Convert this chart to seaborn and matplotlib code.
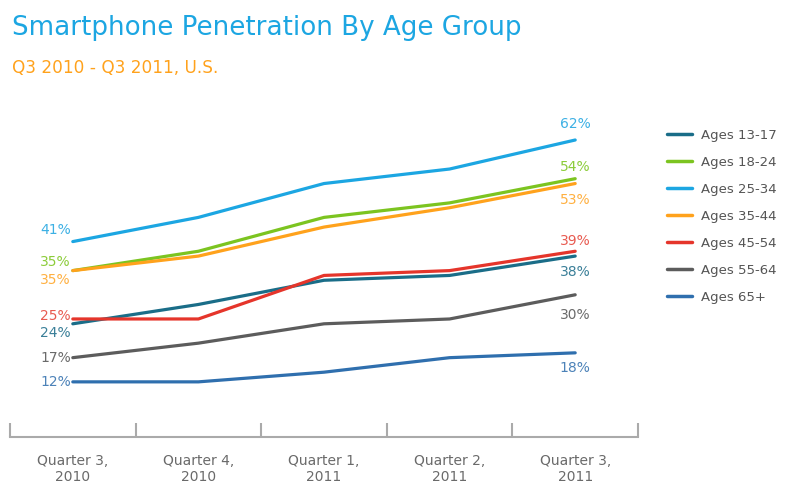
import matplotlib
matplotlib.use("Agg")
import matplotlib.pyplot as plt
from matplotlib.ticker import FixedLocator
import seaborn as sns
import pandas as pd

quarters = ["Quarter 3,\n2010", "Quarter 4,\n2010", "Quarter 1,\n2011",
            "Quarter 2,\n2011", "Quarter 3,\n2011"]
groups = ["Ages 13-17", "Ages 18-24", "Ages 25-34", "Ages 35-44",
          "Ages 45-54", "Ages 55-64", "Ages 65+"]
ages_13_17 = [24, 28, 33, 34, 38]
ages_18_24 = [35, 39, 46, 49, 54]
ages_25_34 = [41, 46, 53, 56, 62]
ages_35_44 = [35, 38, 44, 48, 53]
ages_45_54 = [25, 25, 34, 35, 39]
ages_55_64 = [17, 20, 24, 25, 30]
ages_65_plus = [12, 12, 14, 17, 18]
series = [ages_13_17, ages_18_24, ages_25_34, ages_35_44,
          ages_45_54, ages_55_64, ages_65_plus]

colors = ["#1a6d88", "#7cc420", "#1ca6e2", "#ffa21c", "#e5352b", "#5c5c5c", "#2f6fae"]
label_colors = ["#3a7f98", "#8ccc3a", "#3cb0e4", "#ffb040", "#e85a50", "#6a6a6a", "#4c82b8"]

# offsets (pixels) for the start / end value labels
start_off = [(-2, -9), (-2, 9), (-2, 12), (-2, -9), (-2, 3), (-2, 0), (-2, 0)]
end_off = [(0, -16), (0, 12), (0, 16), (0, -16), (0, 10), (0, -20), (0, -15)]

rows = []
for g, vals in zip(groups, series):
    for q, v in zip(quarters, vals):
        rows.append({"quarter": q, "value": v, "group": g})
df = pd.DataFrame(rows)

sns.set_style("white")
plt.rcParams["font.family"] = ["DejaVu Sans"]

fig = plt.figure(figsize=(7.9, 4.86), dpi=100)
ax = fig.add_axes([10 / 790, 49 / 486, 628 / 790, 335.7 / 486])

sns.lineplot(data=df, x="quarter", y="value", hue="group", palette=colors,
             hue_order=groups, sort=False, linewidth=2.3, ax=ax)

for i, vals in enumerate(series):
    ax.annotate(f"{vals[0]}%", (0, vals[0]), xytext=start_off[i],
                textcoords="offset pixels", ha="right", va="center",
                color=label_colors[i], fontsize=10)
    ax.annotate(f"{vals[-1]}%", (4, vals[-1]), xytext=end_off[i],
                textcoords="offset pixels", ha="center", va="center",
                color=label_colors[i], fontsize=10)

ax.set_xlim(-0.5, 4.5)
ax.set_ylim(0.6, 70)
ax.set_xlabel("")
ax.set_ylabel("")
ax.set_yticks([])
ax.xaxis.set_minor_locator(FixedLocator([-0.5, 0.5, 1.5, 2.5, 3.5, 4.5]))
ax.tick_params(axis="x", which="major", bottom=True, length=0, pad=12,
               labelsize=10, labelcolor="#6a6a6a")
ax.tick_params(axis="x", which="minor", bottom=True, direction="in", length=10,
               width=1.5, color="#aaaaaa")
for side in ["top", "right", "left"]:
    ax.spines[side].set_visible(False)
ax.spines["bottom"].set_color("#aaaaaa")
ax.spines["bottom"].set_linewidth(1.5)

leg = ax.legend(loc="upper left", bbox_to_anchor=(655 / 790, 1 - 117 / 486),
                bbox_transform=fig.transFigure, frameon=False, fontsize=9.5,
                handlelength=1.9, handletextpad=0.7, labelspacing=1.06)
for t in leg.get_texts():
    t.set_color("#555555")
for h in leg.legend_handles:
    h.set_linewidth(2.5)

fig.text(12 / 790, 1 - 28 / 486, "Smartphone Penetration By Age Group",
         color="#1ca6e2", fontsize=18.8, va="center", ha="left")
fig.text(12 / 790, 1 - 68 / 486, "Q3 2010 - Q3 2011, U.S.",
         color="#ffa21c", fontsize=12.2, va="center", ha="left")

fig.savefig("out.png", dpi=100, facecolor="white")
